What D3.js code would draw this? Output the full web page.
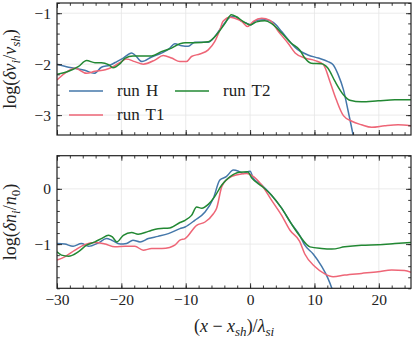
<!DOCTYPE html>
<html>
<head>
<meta charset="utf-8">
<script src="https://cdnjs.cloudflare.com/ajax/libs/d3/7.8.5/d3.min.js"></script>
<style>
  body { margin: 0; background: #fff; }
  svg text { font-family: "Liberation Serif", "DejaVu Serif", serif; fill: #222; }
</style>
</head>
<body>
<div id="chart"></div>
<script>
// runs as [x, value]
var runs    = ["run H", "run T1", "run T2"];
var palette = ["#4477AA", "#EE6677", "#228833"];

var vH  = [[-30,-2.00],[-28.2,-2.06],[-25.7,-2.12],[-24.2,-2.18],[-23.1,-2.06],[-21.8,-2.02],[-20.7,-1.95],[-19.7,-1.88],[-18.4,-1.78],[-17.9,-1.82],[-16.8,-1.95],[-15.3,-1.86],[-13.7,-1.78],[-12.5,-1.69],[-11.7,-1.60],[-10.6,-1.64],[-9.6,-1.65],[-8.6,-1.57],[-6.5,-1.57],[-5.9,-1.52],[-4.4,-1.27],[-2.9,-1.07],[-2.3,-1.07],[-1.3,-1.16],[-0.5,-1.20],[0.1,-1.23],[1.0,-1.14],[2.3,-1.13],[3.6,-1.18],[4.9,-1.36],[6.2,-1.56],[7.0,-1.67],[9.0,-1.82],[10.6,-1.88],[12.1,-1.95],[12.9,-2.01],[13.7,-2.21],[14.5,-2.50],[15.2,-2.90],[16.0,-3.39],[16.6,-3.80]];
var vT1 = [[-30,-2.31],[-28.8,-2.18],[-27.2,-2.08],[-25.4,-2.18],[-24.1,-2.14],[-22.5,-2.11],[-21.3,-2.05],[-20.0,-1.95],[-19.2,-1.90],[-17.9,-1.95],[-16.6,-2.00],[-14.8,-1.92],[-13.5,-1.83],[-12.2,-1.88],[-10.9,-1.95],[-9.9,-1.95],[-9.1,-1.85],[-7.8,-1.80],[-6.5,-1.72],[-5.5,-1.56],[-4.7,-1.33],[-4.2,-1.16],[-3.1,-1.08],[-2.4,-1.10],[-1.3,-1.16],[-0.4,-1.26],[0.5,-1.16],[1.8,-1.10],[3.1,-1.14],[4.4,-1.36],[5.9,-1.59],[7.0,-1.78],[8.5,-1.88],[10.1,-1.93],[11.4,-2.01],[12.4,-2.34],[13.4,-2.70],[14.5,-3.01],[15.8,-3.12],[17.3,-3.19],[18.9,-3.24],[20.9,-3.21],[23.0,-3.19],[25,-3.21]];
var vT2 = [[-30,-2.20],[-28.2,-2.14],[-26.7,-2.05],[-25.4,-1.93],[-24.1,-1.97],[-23.1,-1.97],[-22.0,-2.01],[-21.3,-2.07],[-20.2,-1.99],[-19.4,-1.88],[-18.2,-1.84],[-15.3,-1.84],[-13.7,-1.75],[-12.5,-1.70],[-10.9,-1.60],[-10.1,-1.58],[-8.6,-1.58],[-6.5,-1.56],[-5.0,-1.39],[-3.9,-1.20],[-2.9,-1.03],[-2.1,-1.07],[-1.1,-1.16],[0,-1.23],[1.0,-1.17],[2.3,-1.15],[3.3,-1.20],[4.9,-1.39],[6.4,-1.59],[7.7,-1.72],[8.5,-1.88],[9.5,-1.98],[11.1,-1.99],[12.1,-2.08],[13.2,-2.34],[14.5,-2.60],[15.5,-2.71],[17.3,-2.74],[19.9,-2.72],[22.5,-2.70],[25,-2.70]];

var nH  = [[-30,-0.99],[-28.8,-1.00],[-27.5,-1.04],[-26.2,-0.99],[-25.1,-1.04],[-23.6,-0.98],[-22.3,-0.90],[-21.5,-0.93],[-20.2,-1.00],[-19.2,-0.99],[-18.2,-0.93],[-17.1,-0.96],[-15.8,-0.90],[-14.3,-0.86],[-12.7,-0.81],[-10.9,-0.72],[-10.1,-0.69],[-8.6,-0.57],[-7.0,-0.42],[-5.7,-0.17],[-4.7,0.16],[-3.7,0.22],[-2.6,0.34],[-1.8,0.32],[-1.1,0.28],[0,0.32],[0.5,0.19],[1.8,0.07],[3.3,-0.11],[4.9,-0.35],[6.4,-0.63],[7.7,-0.84],[8.5,-1.02],[9.8,-1.18],[11.1,-1.40],[12.1,-1.62],[12.7,-1.80],[13.2,-2.00]];
var nT1 = [[-30,-1.29],[-28.8,-1.23],[-27.2,-1.11],[-25.7,-1.01],[-24.1,-0.97],[-22.5,-1.00],[-21.0,-1.05],[-19.4,-1.04],[-17.9,-1.04],[-16.6,-1.11],[-15.3,-1.08],[-13.7,-1.08],[-12.5,-1.06],[-11.7,-1.02],[-10.9,-0.93],[-10.1,-0.90],[-8.3,-0.66],[-7.0,-0.60],[-5.7,-0.45],[-5.2,-0.35],[-4.4,0.04],[-3.4,0.19],[-1.8,0.26],[-0.5,0.28],[0.3,0.24],[1.8,0.07],[3.3,-0.20],[4.9,-0.48],[6.2,-0.75],[7.7,-0.95],[8.5,-1.18],[10.1,-1.41],[11.6,-1.54],[12.9,-1.59],[14.7,-1.56],[17.3,-1.53],[19.9,-1.50],[22.0,-1.47],[24.0,-1.48],[25,-1.51]];
var nT2 = [[-30,-1.14],[-29.3,-1.20],[-28.2,-1.22],[-26.7,-1.14],[-25.4,-1.02],[-24.1,-0.96],[-23.1,-0.90],[-22.0,-0.84],[-21.4,-0.87],[-20.7,-0.96],[-19.7,-0.84],[-18.4,-0.79],[-17.4,-0.82],[-15.8,-0.77],[-14.3,-0.72],[-12.5,-0.71],[-10.9,-0.61],[-10.1,-0.57],[-9.1,-0.48],[-8.3,-0.33],[-7.5,-0.35],[-6.5,-0.28],[-5.5,-0.14],[-4.4,0.07],[-3.1,0.22],[-1.7,0.30],[-0.4,0.31],[0.3,0.19],[1.8,0.05],[3.3,-0.11],[4.9,-0.35],[6.4,-0.63],[7.7,-0.85],[9.3,-1.05],[11.1,-1.08],[12.7,-1.09],[14.7,-1.05],[17.3,-1.02],[19.9,-1.01],[22.5,-0.99],[25,-0.97]];

var xTicks = [-30, -20, -10, 0, 10, 20];
var vTicks = [-3, -2, -1];
var nTicks = [-1, 0];

var width = 415, height = 340;
var left = 57, right = 411;

var svg = d3.select("#chart").append("svg")
    .attr("width", width)
    .attr("height", height);

var x = d3.scaleLinear().domain([-30, 25]).range([left, right]);
var minorX = d3.range(-30, 25.01, 2);

var line = (y) => d3.line()
    .x((d) => x(d[0]))
    .y((d) => y(d[1]))
    .curve(d3.curveMonotoneX);

//draws one panel (grid, curves, inward ticks on four sides, frame)
var panel = (id, top, bottom, domain, yTicks, series, showX) => {
    var y = d3.scaleLinear().domain(domain).range([bottom, top]);
    var minorY = d3.range(Math.ceil(domain[0] * 5) / 5, domain[1] + 0.001, 0.2);
    var g = svg.append("g");

    g.append("clipPath").attr("id", "clip-" + id)
     .append("rect")
     .attr("x", left).attr("y", top)
     .attr("width", right - left).attr("height", bottom - top);

    // grid
    g.selectAll(".gx").data(xTicks).enter().append("line")
     .attr("x1", (d) => x(d)).attr("x2", (d) => x(d))
     .attr("y1", top).attr("y2", bottom)
     .attr("stroke", "#e6e6e6").attr("stroke-width", 0.8);
    g.selectAll(".gy").data(yTicks).enter().append("line")
     .attr("x1", left).attr("x2", right)
     .attr("y1", (d) => y(d)).attr("y2", (d) => y(d))
     .attr("stroke", "#e6e6e6").attr("stroke-width", 0.8);

    // curves
    var lines = g.append("g").attr("clip-path", "url(#clip-" + id + ")");
    series.forEach((s, i) => {
        lines.append("path")
             .datum(s)
             .attr("d", line(y))
             .attr("fill", "none")
             .attr("stroke", palette[i])
             .attr("stroke-width", 1.5);
    });

    var fmt = d3.format("d");
    var axes = [
        {mk: d3.axisBottom, sc: x, at: "translate(0," + bottom + ")", minor: minorX, major: xTicks, label: showX},
        {mk: d3.axisTop,    sc: x, at: "translate(0," + top + ")",    minor: minorX, major: xTicks, label: false},
        {mk: d3.axisLeft,   sc: y, at: "translate(" + left + ",0)",   minor: minorY, major: yTicks, label: true},
        {mk: d3.axisRight,  sc: y, at: "translate(" + right + ",0)",  minor: minorY, major: yTicks, label: false}
    ];
    axes.forEach((a) => {
        g.append("g").attr("transform", a.at)
         .call(a.mk(a.sc).tickValues(a.minor).tickSize(-2.8).tickFormat(""))
         .call((s) => s.select(".domain").remove());
        var ax = g.append("g").attr("transform", a.at)
         .call(a.mk(a.sc).tickValues(a.major).tickSize(-5).tickPadding(6)
               .tickFormat(a.label ? fmt : ""));
        ax.select(".domain").remove();
        ax.selectAll("text").attr("font-size", 15.5)
          .attr("font-family", "'Liberation Serif', serif").attr("fill", "#222");
    });
    g.selectAll(".tick line").attr("stroke", "#222").attr("stroke-width", 0.9);

    g.append("rect")
     .attr("x", left).attr("y", top)
     .attr("width", right - left).attr("height", bottom - top)
     .attr("fill", "none").attr("stroke", "#222").attr("stroke-width", 1.2);

    return y;
};

panel("v", 3, 135, [-3.39, -0.8], vTicks, [vH, vT1, vT2], false);
panel("n", 155.7, 288.3, [-1.8, 0.6], nTicks, [nH, nT1, nT2], true);

// legend
var legendPos = [[69, 91], [69, 115], [175, 91]];
runs.forEach((r, i) => {
    var p = legendPos[i];
    svg.append("line")
       .attr("x1", p[0]).attr("x2", p[0] + 34)
       .attr("y1", p[1]).attr("y2", p[1])
       .attr("stroke", palette[i]).attr("stroke-width", 1.5);
    svg.append("text")
       .attr("x", p[0] + 48).attr("y", p[1] + 5)
       .attr("font-size", 17)
       .attr("font-family", "'Liberation Serif', serif")
       .attr("word-spacing", 2)
       .text(r);
});

// axis labels, math set with tspans: [text, italic, subscript]
var mathLabel = (parts, attrs) => {
    var t = svg.append("text").attr("font-size", 18).attr("text-anchor", "middle")
               .attr("font-family", "'Liberation Serif', serif");
    Object.keys(attrs).forEach((k) => t.attr(k, attrs[k]));
    var shifted = false;
    parts.forEach((p) => {
        var ts = t.append("tspan").text(p[0]);
        if (p[1]) ts.attr("font-style", "italic");
        if (p[2] && !shifted) { ts.attr("dy", 4).attr("font-size", 13); shifted = true; }
        else if (p[2]) { ts.attr("font-size", 13); }
        else if (shifted) { ts.attr("dy", -4); shifted = false; }
    });
    return t;
};

mathLabel([["log(", 0], ["δv", 1], ["i", 1, 1], ["/", 0], ["v", 1], ["sh", 1, 1], [")", 0]],
          {transform: "translate(16,69) rotate(-90)"});
mathLabel([["log(", 0], ["δn", 1], ["i", 1, 1], ["/", 0], ["n", 1], ["0", 0, 1], [")", 0]],
          {transform: "translate(16,222) rotate(-90)"});
mathLabel([["(", 0], ["x", 1], [" − ", 0], ["x", 1], ["sh", 1, 1], [")/", 0], ["λ", 1], ["si", 1, 1]],
          {x: 234, y: 332});
</script>
</body>
</html>
